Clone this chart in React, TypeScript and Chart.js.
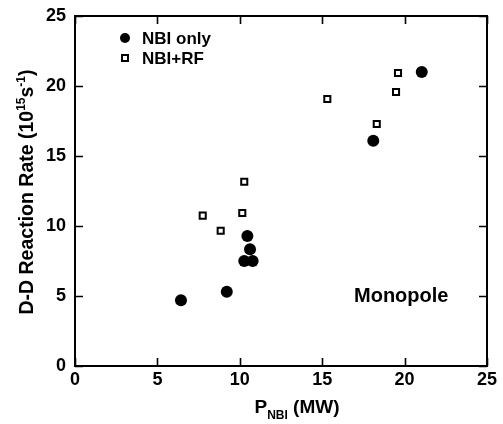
import React, { useEffect, useRef } from 'react';
import { Chart, registerables } from 'chart.js';

Chart.register(...registerables);

// ---- Data ----
const nbiOnlyX = [6.43, 9.21, 10.27, 10.78, 10.62, 10.46, 18.1, 21.04];
const nbiOnlyY = [4.69, 5.31, 7.5, 7.5, 8.34, 9.29, 16.09, 21.0];
const nbiRfX = [7.75, 8.84, 10.15, 10.27, 15.31, 18.31, 19.48, 19.6];
const nbiRfY = [10.74, 9.66, 10.93, 13.16, 19.07, 17.29, 19.57, 20.93];
const xTickValues = [0, 5, 10, 15, 20, 25];
const yTickValues = [0, 5, 10, 15, 20, 25];
const seriesLabels = ['NBI only', 'NBI+RF'];
const annotationText = 'Monopole';

const FONT = '"Liberation Sans", Arial, Helvetica, sans-serif';

const customText = {
  id: 'customText',
  afterDraw(chart: any) {
    const ctx = chart.ctx as CanvasRenderingContext2D;
    const area = chart.chartArea;
    const xs = chart.scales.x;
    const ys = chart.scales.y;
    ctx.save();
    ctx.fillStyle = '#000';
    ctx.strokeStyle = '#000';

    // Inward tick marks on all four sides
    const TL = 8;
    ctx.lineWidth = 1.6;
    ctx.beginPath();
    for (const v of xTickValues) {
      const px = Math.round(xs.getPixelForValue(v)) + 0.5;
      ctx.moveTo(px, area.bottom);
      ctx.lineTo(px, area.bottom - TL);
      ctx.moveTo(px, area.top);
      ctx.lineTo(px, area.top + TL);
    }
    for (const v of yTickValues) {
      const py = Math.round(ys.getPixelForValue(v)) + 0.5;
      ctx.moveTo(area.left, py);
      ctx.lineTo(area.left + TL, py);
      ctx.moveTo(area.right, py);
      ctx.lineTo(area.right - TL, py);
    }
    ctx.stroke();

    // Legend (inside plot, top-left)
    chart.data.datasets.forEach((ds: any, i: number) => {
      const cx = area.left + 50;
      const cy = area.top + 22 + i * 20;
      if (ds.pointStyle === 'circle') {
        ctx.beginPath();
        ctx.arc(cx, cy, 5, 0, Math.PI * 2);
        ctx.fillStyle = ds.backgroundColor;
        ctx.fill();
      } else {
        ctx.fillStyle = ds.backgroundColor;
        ctx.fillRect(cx - 3, cy - 3, 6, 6);
        ctx.lineWidth = 2;
        ctx.strokeStyle = ds.borderColor;
        ctx.strokeRect(cx - 3, cy - 3, 6, 6);
      }
      ctx.fillStyle = '#000';
      ctx.font = `bold 17px ${FONT}`;
      ctx.textAlign = 'left';
      ctx.textBaseline = 'middle';
      ctx.fillText(ds.label, cx + 17, cy + 1);
    });

    // Annotation
    ctx.font = `bold 20px ${FONT}`;
    ctx.textAlign = 'left';
    ctx.textBaseline = 'alphabetic';
    ctx.fillText(annotationText, 354, 302);

    // X title: P_NBI (MW)
    const big = `bold 19px ${FONT}`;
    const small = `bold 12px ${FONT}`;
    ctx.font = big;
    const wP = ctx.measureText('P').width;
    const wRest = ctx.measureText(' (MW)').width;
    ctx.font = small;
    const wSub = ctx.measureText('NBI').width;
    const total = wP + wSub + wRest;
    let x = 297 - total / 2;
    const base = 413;
    ctx.font = big;
    ctx.fillText('P', x, base);
    x += wP;
    ctx.font = small;
    ctx.fillText('NBI', x, base + 6);
    x += wSub;
    ctx.font = big;
    ctx.fillText(' (MW)', x, base);

    // Y title: D-D Reaction Rate (10^15 s^-1)
    const yBig = `bold 19.5px ${FONT}`;
    const parts: [string, boolean][] = [
      ['D-D Reaction Rate (10', false],
      ['15', true],
      ['s', false],
      ['-1', true],
      [')', false],
    ];
    const supFont = `bold 12px ${FONT}`;
    let tw = 0;
    for (const [t, sup] of parts) {
      ctx.font = sup ? supFont : yBig;
      tw += ctx.measureText(t).width;
    }
    ctx.translate(33, 192);
    ctx.rotate(-Math.PI / 2);
    let px = -tw / 2;
    for (const [t, sup] of parts) {
      ctx.font = sup ? supFont : yBig;
      ctx.fillText(t, px, sup ? -8 : 0);
      px += ctx.measureText(t).width;
    }
    ctx.restore();
  },
};

export default function App() {
  const ref = useRef<HTMLCanvasElement | null>(null);

  useEffect(() => {
    if (!ref.current) return;
    const tickFont = { family: FONT, size: 18, weight: 'bold' as const };
    const gridOpts = { drawOnChartArea: false, tickLength: -8, color: 'rgba(0,0,0,0)', lineWidth: 1 };
    const borderOpts = { color: '#000', width: 2 };
    const chart = new Chart(ref.current, {
      type: 'scatter',
      data: {
        datasets: [
          {
            label: seriesLabels[0],
            data: nbiOnlyX.map((x, i) => ({ x, y: nbiOnlyY[i] })),
            pointStyle: 'circle',
            pointRadius: 6,
            backgroundColor: '#000',
            borderColor: '#000',
            borderWidth: 0,
            xAxisID: 'x',
            yAxisID: 'y',
          },
          {
            label: seriesLabels[1],
            data: nbiRfX.map((x, i) => ({ x, y: nbiRfY[i] })),
            pointStyle: 'rect',
            pointRadius: 4.3,
            backgroundColor: '#fff',
            borderColor: '#000',
            borderWidth: 2,
            xAxisID: 'x',
            yAxisID: 'y',
          },
        ],
      },
      options: {
        responsive: false,
        animation: false,
        layout: { padding: { top: 16, right: 16, left: 0, bottom: 0 } },
        plugins: { legend: { display: false }, tooltip: { enabled: false } },
        scales: {
          x: {
            type: 'linear',
            position: 'bottom',
            min: 0,
            max: 25,
            afterBuildTicks: (s: any) => {
              s.ticks = xTickValues.map((v) => ({ value: v }));
            },
            ticks: { font: tickFont, color: '#000', padding: 11, maxRotation: 0, autoSkip: false },
            grid: gridOpts,
            border: borderOpts,
            afterFit: (s: any) => {
              s.height = 58;
              s.paddingLeft = 0;
              s.paddingRight = 0;
            },
          },
          y: {
            type: 'linear',
            position: 'left',
            min: 0,
            max: 25,
            afterBuildTicks: (s: any) => {
              s.ticks = yTickValues.map((v) => ({ value: v }));
            },
            ticks: { font: tickFont, color: '#000', padding: 17, autoSkip: false },
            grid: gridOpts,
            border: borderOpts,
            afterFit: (s: any) => {
              s.width = 75;
              s.paddingTop = 0;
              s.paddingBottom = 0;
            },
          },
          x2: {
            type: 'linear',
            position: 'top',
            min: 0,
            max: 25,
            ticks: { display: false },
            grid: gridOpts,
            border: borderOpts,
            afterFit: (s: any) => {
              s.height = 0;
              s.paddingLeft = 0;
              s.paddingRight = 0;
            },
          },
          y2: {
            type: 'linear',
            position: 'right',
            min: 0,
            max: 25,
            ticks: { display: false },
            grid: gridOpts,
            border: borderOpts,
            afterFit: (s: any) => {
              s.width = 0;
              s.paddingTop = 0;
              s.paddingBottom = 0;
            },
          },
        },
      } as any,
      plugins: [customText],
    });
    return () => chart.destroy();
  }, []);

  return (
    <div style={{ position: 'fixed', left: 0, top: 0, width: 503, height: 424, background: '#fff' }}>
      <canvas ref={ref} width={503} height={424} style={{ width: 503, height: 424, display: 'block' }} />
    </div>
  );
}
